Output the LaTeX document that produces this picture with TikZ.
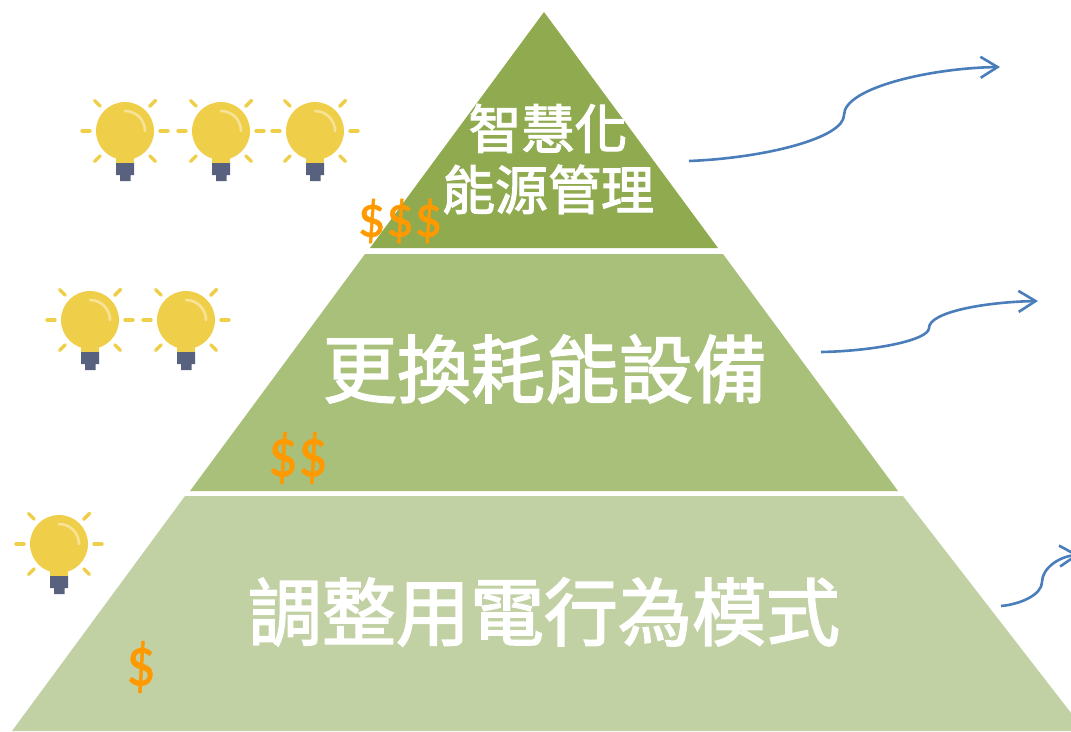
\documentclass[tikz,border=0pt]{standalone}
\usepackage{fontspec}
\usetikzlibrary{arrows.meta}
\newfontfamily\cjk[FakeBold=2.2]{Noto Sans CJK TC}
\newfontfamily\money[FakeBold=0.8]{Carlito}

\definecolor{topgreen}{HTML}{8FAA4F}
\definecolor{midgreen}{HTML}{A8C07A}
\definecolor{lowgreen}{HTML}{C1D1A4}
\definecolor{bulbyellow}{HTML}{EFCF4A}
\definecolor{bulbbase}{HTML}{58627F}
\definecolor{bulbshine}{HTML}{F6E395}
\definecolor{moneyorange}{HTML}{FF9900}
\definecolor{curveblue}{HTML}{4A7EBB}

\tikzset{
	layertext/.style={text=white, font=\cjk\fontsize{#1}{#1}\selectfont, align=center, inner sep=0pt},
	cost/.style={text=moneyorange, font=\money\fontsize{#1}{#1}\selectfont, inner sep=0pt, yscale=1.18, transform shape},
	rising/.style={draw=curveblue, line width=2.6pt, -{Straight Barb[length=17pt,width=21pt,line width=2.6pt]}},
	pics/bulb/.style={code={
		\foreach \a in {0,45,90,135,180,225,315,-45}
			\draw[bulbyellow, line width=3.4pt, line cap=round] (\a:35) -- (\a:43);
		\fill[bulbyellow] (-9,22) rectangle (9,33);
		\fill[bulbyellow] (0,0) circle (29);
		\draw[bulbshine, line width=2.6pt, line cap=round] (0,-20) arc (-90:0:20);
		\fill[bulbbase] (-9,32) -- (9,32) -- (9,44) -- (5.5,44) -- (5.5,50) -- (-5,50) -- (-5,44) -- (-9,44) --cycle;
	}}
}

\begin{document}
\begin{tikzpicture}[x=1pt, y=-1pt]
	\clip (0,0) rectangle (1071,731);
	% pyramid corners
	\coordinate (T) at (544,12);
	\coordinate (TL) at (370,248);
	\coordinate (TR) at (718,248);
	\coordinate (ML) at (365,254);
	\coordinate (MR) at (723,254);
	\coordinate (MBL) at (190,491);
	\coordinate (MBR) at (898,491);
	\coordinate (LL) at (185,496);
	\coordinate (LR) at (903,496);
	\coordinate (LBL) at (12,731);
	\coordinate (LBR) at (1085,731);

	\fill[topgreen] (T) -- (TR) -- (TL) --cycle;
	\fill[midgreen] (ML) -- (MR) -- (MBR) -- (MBL) --cycle;
	\fill[lowgreen] (LL) -- (LR) -- (LBR) -- (LBL) --cycle;

	% layer names
	\node[layertext=53] (smart) at (548,159) {智慧化\\[8pt]能源管理};
	\node[layertext=74] (replace) at (545,369) {更換耗能設備};
	\node[layertext=74] (habit) at (544,612) {調整用電行為模式};

	% bulbs
	\foreach \x/\y in {125/131, 221/131, 315/131, 90/320, 186/320, 59/544}
		\pic at (\x,\y) {bulb};

	% costs
	\node[cost=56, yscale=0.9] (costthree) at (400,221) {\$\$\$};
	\node[cost=59] (costtwo) at (298,458) {\$\$};
	\node[cost=59] (costone) at (141,667) {\$};

	% curves
	\coordinate (A) at (689,161);
	\coordinate (A') at (1000,67);
	\coordinate (B) at (821,352);
	\coordinate (B') at (1038,301);
	\coordinate (C) at (1001,606);
	\coordinate (C') at (1079,555);

	\draw[rising] (A) .. controls (765,158) and (844,138) .. (844,115)
		.. controls (844,88) and (930,68) .. (A');
	\draw[rising] (B) .. controls (875,351) and (929,340) .. (929,328)
		.. controls (929,312) and (985,302) .. (B');
	\draw[rising] (C) .. controls (1022,604) and (1042,594) .. (1042,582)
		.. controls (1042,568) and (1060,556) .. (C');
\end{tikzpicture}
\end{document}
